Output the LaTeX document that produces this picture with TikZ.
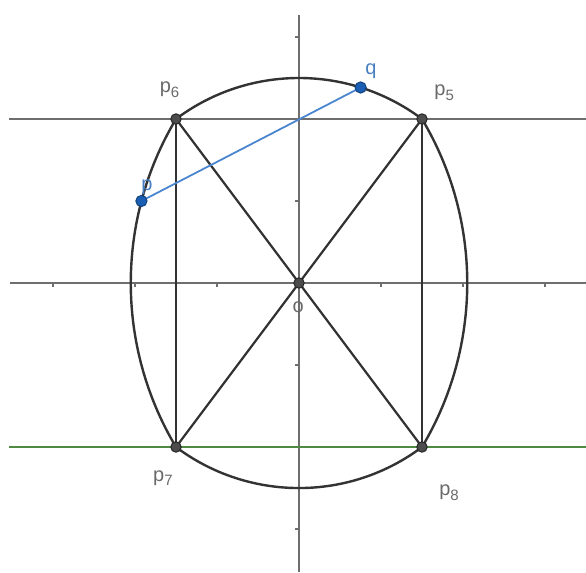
\documentclass[tikz,border=0pt]{standalone}
\usepackage{fontspec}
\setmainfont{Liberation Sans}
\usetikzlibrary{calc}
\definecolor{axisgray}{HTML}{6E6E6E}
\definecolor{curvegray}{HTML}{333333}
\definecolor{labelgray}{HTML}{6A6A6A}
\definecolor{greenline}{HTML}{4E8A42}
\definecolor{blueline}{HTML}{4A86D0}
\definecolor{bluept}{HTML}{1A5FB4}
\tikzset{
  axisline/.style={axisgray, line width=1.1pt},
  guideline/.style={axisgray, line width=0.9pt},
  curveline/.style={curvegray, line width=1.2pt},
  seg/.style={curvegray, line width=1.1pt},
  tickline/.style={axisgray, line width=0.6pt},
  dotpt/.style={circle, fill=black!70, draw=black!85, line width=0.5pt, inner sep=0pt, minimum size=5.2pt},
  bluedot/.style={circle, fill=bluept, draw=bluept!70!black, line width=0.5pt, inner sep=0pt, minimum size=5.6pt},
  lbl/.style={text=labelgray, font=\fontsize{10}{11}\selectfont, inner sep=0pt},
  bluelbl/.style={text=bluept!80!white, font=\fontsize{10}{11}\selectfont, inner sep=0pt}
}
\newcommand{\psub}[1]{p\raisebox{-0.45ex}{\fontsize{7.5}{8}\selectfont #1}}
\begin{document}
\begin{tikzpicture}[x=41pt,y=41pt]
\useasboundingbox (-3.6463,-3.5244) rectangle (3.5,3.4512);
% axes and guide lines
\coordinate (xl) at (-3.524,0);
\coordinate (xr) at (3.5,0);
\coordinate (yt) at (0,3.268);
\coordinate (yb) at (0,-3.5244);
\coordinate (hl) at (-3.537,2);
\coordinate (hr) at (3.5,2);
\coordinate (gl) at (-3.537,-2);
\coordinate (gr) at (3.5,-2);
\draw[axisline] (xl) -- (xr);
\draw[axisline] (yt) -- (yb);
\draw[guideline] (hl) -- (hr);
\draw[greenline, line width=0.9pt] (gl) -- (gr);
\foreach \t in {-3,-2,-1,1,2,3} {
  \draw[tickline] (\t,0) -- (\t,-0.05);
}
\foreach \t in {-3,-1,1,3} {
  \draw[tickline] (0,\t) -- (-0.05,\t);
}
% oval curve
\coordinate (O) at (0,0);
\coordinate (P5) at (1.5,2);
\coordinate (P6) at (-1.5,2);
\coordinate (P7) at (-1.5,-2);
\coordinate (P8) at (1.5,-2);
\draw[curveline] (P5) arc[start angle=53.13, end angle=126.87, radius=2.5]
  arc[start angle=149.16, end angle=210.84, radius=3.902]
  arc[start angle=233.13, end angle=306.87, radius=2.5]
  arc[start angle=-30.84, end angle=30.84, radius=3.902] -- cycle;
% segments
\draw[seg] (P6) -- (P7);
\draw[seg] (P5) -- (P8);
\draw[seg] (P6) -- (P8);
\draw[seg] (P5) -- (P7);
% blue chord
\coordinate (pp) at ($(1.85,0)+(165.15:3.902)$);
\coordinate (qq) at (72.5:2.5);
\draw[blueline, line width=0.9pt] (pp) -- (qq);
% points
\node[dotpt] (p5) at (P5) {};
\node[dotpt] (p6) at (P6) {};
\node[dotpt] (p7) at (P7) {};
\node[dotpt] (p8) at (P8) {};
\node[dotpt] (o) at (O) {};
\node[bluedot] (p) at (pp) {};
\node[bluedot] (q) at (qq) {};
% labels
\node[lbl] (l6) at (-1.578,2.354) {\psub{6}};
\node[lbl] (l5) at (1.77,2.317) {\psub{5}};
\node[lbl] (l7) at (-1.66,-2.378) {\psub{7}};
\node[lbl] (l8) at (1.83,-2.561) {\psub{8}};
\node[lbl] (lo) at (-0.01,-0.29) {o};
\node[bluelbl] (lp) at (-1.854,1.17) {p};
\node[bluelbl] (lq) at (0.878,2.58) {q};
\end{tikzpicture}
\end{document}
